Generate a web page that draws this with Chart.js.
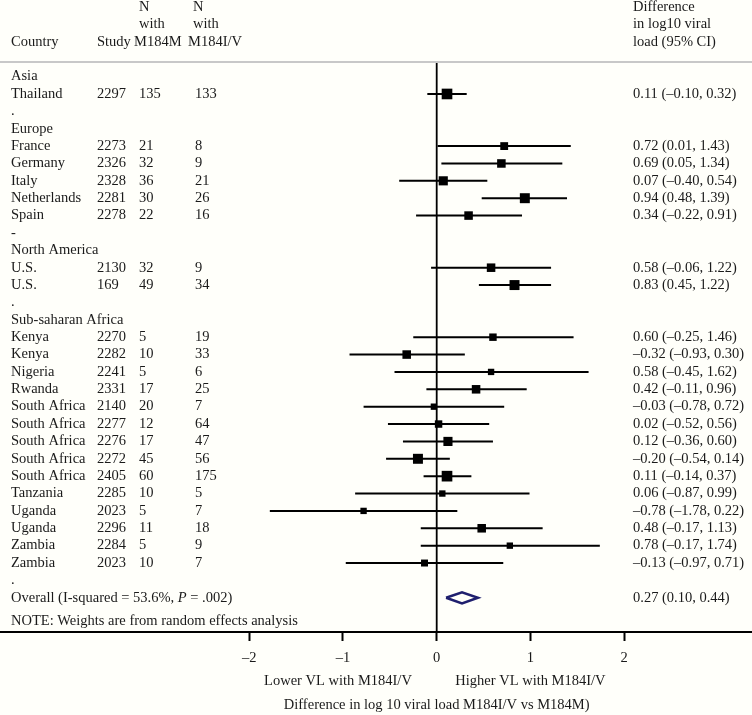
<!DOCTYPE html>
<html>
<head>
<meta charset="utf-8">
<script src="https://cdn.jsdelivr.net/npm/chart.js@4"></script>
<style>
  body { margin: 0; background: #fffffa; }
  canvas { display: block; }
</style>
</head>
<body>
<canvas id="forest" width="752" height="715"></canvas>
<script>
// study rows
const countries = ["Thailand", "France", "Germany", "Italy", "Netherlands", "Spain", "U.S.", "U.S.",
  "Kenya", "Kenya", "Nigeria", "Rwanda", "South Africa", "South Africa", "South Africa", "South Africa",
  "South Africa", "Tanzania", "Uganda", "Uganda", "Zambia", "Zambia"];
const studies = [2297, 2273, 2326, 2328, 2281, 2278, 2130, 169, 2270, 2282, 2241, 2331, 2140, 2277, 2276,
  2272, 2405, 2285, 2023, 2296, 2284, 2023];
const nM184M = [135, 21, 32, 36, 30, 22, 32, 49, 5, 10, 5, 17, 20, 12, 17, 45, 60, 10, 5, 11, 5, 10];
const nM184IV = [133, 8, 9, 21, 26, 16, 9, 34, 19, 33, 6, 25, 7, 64, 47, 56, 175, 5, 7, 18, 9, 7];
const estimates = [0.11, 0.72, 0.69, 0.07, 0.94, 0.34, 0.58, 0.83, 0.60, -0.32, 0.58, 0.42, -0.03, 0.02,
  0.12, -0.20, 0.11, 0.06, -0.78, 0.48, 0.78, -0.13];
const lower = [-0.10, 0.01, 0.05, -0.40, 0.48, -0.22, -0.06, 0.45, -0.25, -0.93, -0.45, -0.11, -0.78, -0.52,
  -0.36, -0.54, -0.14, -0.87, -1.78, -0.17, -0.17, -0.97];
const upper = [0.32, 1.43, 1.34, 0.54, 1.39, 0.91, 1.22, 1.22, 1.46, 0.30, 1.62, 0.96, 0.72, 0.56, 0.60,
  0.14, 0.37, 0.99, 0.22, 1.13, 1.74, 0.71];
// approximate weights (%) read from the square sizes
const weights = [9.8, 5.3, 6.3, 7.2, 8.6, 6.3, 6.3, 8.6, 4.8, 6.3, 3.5, 6.3, 3.5, 4.8, 7.2, 8.6, 9.8, 3.5,
  3.5, 6.3, 3.5, 4.2];
const studyRows = [1, 4, 5, 6, 7, 8, 11, 12, 15, 16, 17, 18, 19, 20, 21, 22, 23, 24, 25, 26, 27, 28];

// group headings and spacer marks
const groupLabels = ["Asia", ".", "Europe", "-", "North America", ".", "Sub-saharan Africa", "."];
const groupRows = [0, 2, 3, 9, 10, 13, 14, 29];

// pooled estimate
const overallEst = 0.27;
const overallLo = 0.10;
const overallHi = 0.44;
const overallRow = 30;

const tickValues = [-2, -1, 0, 1, 2];

const FONT = '"Liberation Serif", "Times New Roman", serif';
const fmt = v => (v < 0 ? "\u2013" : "") + Math.abs(v).toFixed(2);

const squares = estimates.map((e, i) => ({ x: e, y: studyRows[i] }));
const squareRadius = weights.map(w => 1.7 * Math.sqrt(w) / Math.SQRT1_2);

const bars = [];
lower.forEach((lo, i) => {
  bars.push({ x: lo, y: studyRows[i] });
  bars.push({ x: upper[i], y: studyRows[i] });
  bars.push({ x: null, y: null });
});

const diamond = [
  { x: overallLo, y: overallRow },
  { x: overallEst, y: overallRow - 0.32 },
  { x: overallHi, y: overallRow },
  { x: overallEst, y: overallRow + 0.32 },
  { x: overallLo, y: overallRow }
];

const yMin = -0.84, yMax = 31.97;

const forestText = {
  id: "forestText",
  beforeDraw(chart) {
    const ctx = chart.ctx;
    ctx.save();
    ctx.fillStyle = "#fffffa";
    ctx.fillRect(0, 0, chart.width, chart.height);
    ctx.restore();
  },
  afterDraw(chart) {
    const ctx = chart.ctx;
    const x = chart.scales.x, y = chart.scales.y;
    ctx.save();

    // header rule
    ctx.strokeStyle = "#c8c8c8";
    ctx.lineWidth = 2;
    ctx.beginPath();
    ctx.moveTo(0, chart.chartArea.top);
    ctx.lineTo(chart.width, chart.chartArea.top);
    ctx.stroke();

    ctx.fillStyle = "#1a1a1a";
    ctx.font = "14.5px " + FONT;
    ctx.textBaseline = "middle";
    ctx.textAlign = "left";

    // column headers
    const h1 = y.getPixelForValue(-4), h2 = y.getPixelForValue(-3), h3 = y.getPixelForValue(-2);
    ctx.fillText("Country", 11, h3);
    ctx.fillText("Study", 97, h3);
    ctx.fillText("N", 139, h1);
    ctx.fillText("with", 139, h2);
    ctx.fillText("M184M", 134, h3);
    ctx.fillText("N", 193, h1);
    ctx.fillText("with", 193, h2);
    ctx.fillText("M184I/V", 188, h3);
    ctx.fillText("Difference", 633, h1);
    ctx.fillText("in log10 viral", 633, h2);
    ctx.fillText("load (95% CI)", 633, h3);

    groupLabels.forEach((g, i) => ctx.fillText(g, 11, y.getPixelForValue(groupRows[i])));

    countries.forEach((c, i) => {
      const py = y.getPixelForValue(studyRows[i]);
      ctx.fillText(c, 11, py);
      ctx.fillText(String(studies[i]), 97, py);
      ctx.fillText(String(nM184M[i]), 139, py);
      ctx.fillText(String(nM184IV[i]), 195, py);
      ctx.fillText(fmt(estimates[i]) + " (" + fmt(lower[i]) + ", " + fmt(upper[i]) + ")", 633, py);
    });

    // overall row
    const oy = y.getPixelForValue(overallRow);
    let s1 = "Overall (I-squared = 53.6%, ";
    ctx.fillText(s1, 11, oy);
    let ox = 11 + ctx.measureText(s1).width;
    ctx.font = "italic 14.5px " + FONT;
    ctx.fillText("P", ox, oy);
    ox += ctx.measureText("P").width;
    ctx.font = "14.5px " + FONT;
    ctx.fillText(" = .002)", ox, oy);
    ctx.fillText(fmt(overallEst) + " (" + fmt(overallLo) + ", " + fmt(overallHi) + ")", 633, oy);

    ctx.fillText("NOTE: Weights are from random effects analysis", 11, y.getPixelForValue(31.35));

    // axis titles
    ctx.textAlign = "center";
    ctx.fillText("Lower VL with M184I/V", x.getPixelForValue(-1) - 5, 681);
    ctx.fillText("Higher VL with M184I/V", x.getPixelForValue(1), 681);
    ctx.fillText("Difference in log 10 viral load M184I/V vs M184M)", x.getPixelForValue(0), 705);

    ctx.restore();
  }
};

new Chart(document.getElementById("forest"), {
  type: "scatter",
  data: {
    datasets: [
      {
        data: squares,
        pointStyle: "rect",
        pointRadius: squareRadius,
        backgroundColor: "#000",
        borderWidth: 0
      },
      {
        type: "line",
        data: bars,
        borderColor: "#000",
        borderWidth: 2,
        pointRadius: 0,
        spanGaps: false
      },
      {
        type: "line",
        data: diamond,
        borderColor: "#1f1f6e",
        borderWidth: 2.5,
        pointRadius: 0
      },
      {
        type: "line",
        data: [{ x: 0, y: yMin }, { x: 0, y: yMax }],
        borderColor: "#000",
        borderWidth: 1.8,
        pointRadius: 0
      }
    ]
  },
  plugins: [forestText],
  options: {
    responsive: false,
    animation: false,
    layout: { autoPadding: false, padding: { top: 62, left: 0, right: 0, bottom: 0 } },
    plugins: { legend: { display: false }, tooltip: { enabled: false } },
    scales: {
      x: {
        type: "linear",
        min: -436.7 / 93.75,
        max: (752 - 436.7) / 93.75,
        afterBuildTicks: s => { s.ticks = tickValues.map(v => ({ value: v })); },
        afterFit: s => {
          s.height = 83;
          s.paddingLeft = 0;
          s.paddingRight = 0;
        },
        grid: { drawOnChartArea: false, drawTicks: true, tickLength: 9, tickWidth: 2, color: "#000" },
        border: { display: true, color: "#000", width: 2 },
        ticks: {
          color: "#1a1a1a",
          padding: 8,
          font: { family: FONT, size: 14.5 },
          callback: v => (v < 0 ? "\u2013" + Math.abs(v) : String(v))
        }
      },
      y: {
        type: "linear",
        display: false,
        reverse: true,
        min: yMin,
        max: yMax
      }
    }
  }
});
</script>
</body>
</html>
